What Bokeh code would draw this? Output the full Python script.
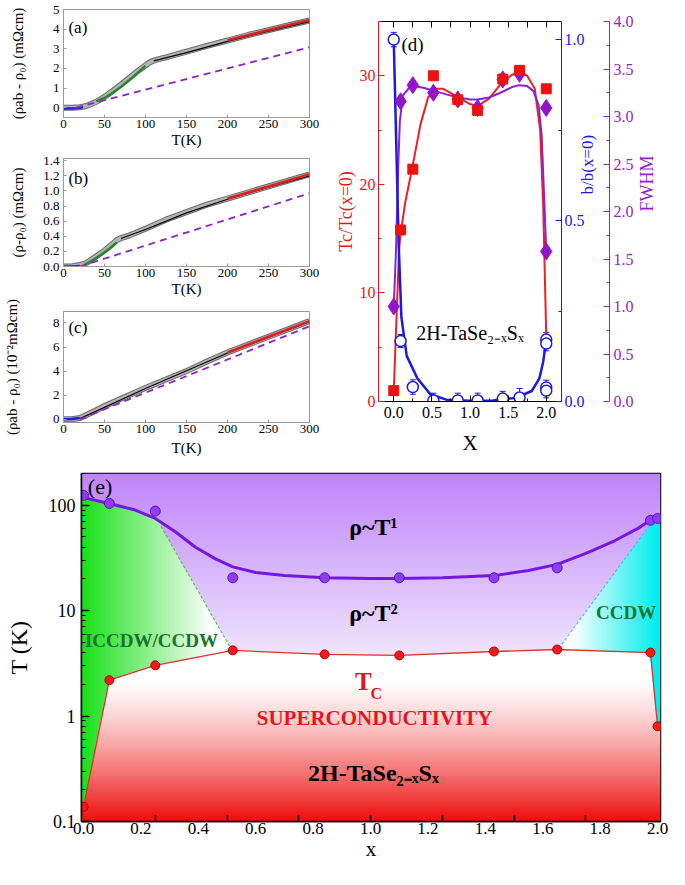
import math
import numpy as np
from bokeh.plotting import figure
from bokeh.layouts import column, row
from bokeh.models import (Range1d, LinearAxis, FixedTicker, NumeralTickFormatter,
                          CustomJSTickFormatter, Whisker, TeeHead, ColumnDataSource)
from bokeh.core.properties import value
from bokeh.embed import file_html
from bokeh.resources import INLINE

FONT = "Liberation Serif, Times New Roman, serif"

# ---------------- panel (a) ----------------
a_T = [0, 10, 20, 25, 30, 40, 50, 60, 70, 80, 90, 100, 105, 110, 115, 125, 150, 175, 200, 225, 250, 275, 300]
a_rho = [0, 0, 0.02, 0.06, 0.12, 0.3, 0.55, 0.85, 1.17, 1.5, 1.85, 2.15, 2.3, 2.4, 2.46, 2.56, 2.85, 3.15, 3.42, 3.7, 3.95, 4.2, 4.44]
a_blue_T = [0, 5, 10, 15, 20, 24]
a_blue = [-0.04, -0.04, -0.04, -0.03, 0.0, 0.03]
a_green_T = [40, 50, 60, 70, 80, 90, 100]
a_green = [0.33, 0.5, 0.76, 1.06, 1.4, 1.76, 2.13]
a_black_T = [110, 150, 200, 250, 300]
a_black = [2.38, 2.8, 3.38, 3.9, 4.38]
a_red_T = [200, 250, 300]
a_red = [3.43, 3.96, 4.46]
a_dash_T = [15, 300]
a_dash = [0.0, 3.08]

# ---------------- panel (b) ----------------
b_T = [0, 10, 20, 25, 30, 40, 50, 60, 65, 70, 80, 100, 125, 150, 175, 200, 250, 300]
b_rho = [0, 0, 0.02, 0.035, 0.06, 0.135, 0.21, 0.30, 0.35, 0.375, 0.41, 0.5, 0.62, 0.72, 0.82, 0.9, 1.06, 1.22]
b_blue_T = [0, 10, 20]
b_blue = [0.0, 0.0, 0.005]
b_green_T = [25, 35, 45, 55, 65]
b_green = [0.02, 0.08, 0.15, 0.23, 0.32]
b_black_T = [70, 100, 150, 200, 250, 300]
b_black = [0.37, 0.49, 0.71, 0.89, 1.05, 1.2]
b_red_T = [200, 250, 300]
b_red = [0.9, 1.06, 1.22]
b_dash_T = [20, 300]
b_dash = [0.0, 0.97]

# ---------------- panel (c) ----------------
c_T = [0, 10, 20, 25, 30, 40, 50, 75, 100, 125, 150, 175, 200, 250, 300]
c_rho = [0, 0, 0.1, 0.25, 0.42, 0.75, 1.1, 1.85, 2.6, 3.3, 4.0, 4.8, 5.55, 6.85, 8.15]
c_blue_T = [0, 10, 20]
c_blue = [0.0, 0.02, 0.1]
c_black_T = [20, 100, 200, 300]
c_black = [0.05, 2.55, 5.5, 8.1]
c_red_T = [200, 250, 300]
c_red = [5.55, 6.85, 8.15]
c_dash_T = [20, 300]
c_dash = [0.0, 7.72]

T_TICKS = [0, 50, 100, 150, 200, 250, 300]

# ---------------- panel (d) ----------------
d_x = [0.0, 0.09, 0.25, 0.52, 0.84, 1.10, 1.43, 1.65, 2.0]
d_tc = [1.0, 15.8, 21.4, 30.0, 27.8, 26.8, 29.7, 30.5, 28.8]
d_fw_x = [0.0, 0.09, 0.25, 0.52, 0.84, 1.10, 1.43, 1.65, 2.0, 2.0]
d_fw = [1.0, 3.16, 3.33, 3.25, 3.18, 3.09, 3.39, 3.45, 3.09, 1.58]
d_b_x = [0.0, 0.09, 0.25, 0.52, 0.84, 1.10, 1.43, 1.65, 2.0, 2.0, 2.0, 2.0]
d_b = [1.0, 0.167, 0.04, 0.003, 0.003, 0.003, 0.008, 0.011, 0.171, 0.16, 0.039, 0.03]
d_b_err = [0.02, 0.018, 0.02, 0.02, 0.02, 0.02, 0.02, 0.025, 0.02, 0.02, 0.02, 0.02]
# guide curves
d_tc_cx = [0.0, 0.07, 0.09, 0.15, 0.25, 0.35, 0.45, 0.55, 0.65, 0.75, 0.85, 1.0, 1.1, 1.25, 1.4, 1.55, 1.65, 1.75, 1.85, 1.92, 1.96, 2.0]
d_tc_cy = [1.0, 14.0, 15.5, 18.3, 21.8, 25.5, 28.0, 28.8, 28.8, 28.4, 28.0, 27.4, 27.2, 27.9, 29.2, 30.1, 30.3, 30.0, 28.8, 25.0, 18.0, 6.0]
d_fw_cx = [0.0, 0.03, 0.06, 0.08, 0.12, 0.2, 0.27, 0.4, 0.53, 0.7, 0.85, 1.0, 1.1, 1.25, 1.4, 1.55, 1.65, 1.75, 1.83, 1.9, 1.94, 1.97, 2.0]
d_fw_cy = [1.0, 1.6, 2.5, 2.95, 3.22, 3.3, 3.32, 3.3, 3.27, 3.23, 3.2, 3.18, 3.18, 3.2, 3.25, 3.31, 3.33, 3.32, 3.27, 3.12, 2.8, 2.2, 1.58]
d_b_cx = [0.0, 0.064, 0.1, 0.17, 0.31, 0.48, 0.69, 1.0, 1.3, 1.6, 1.81, 1.91, 1.96, 2.0]
d_b_cy = [1.0, 0.44, 0.233, 0.126, 0.064, 0.02, 0.005, 0.002, 0.003, 0.01, 0.029, 0.064, 0.11, 0.17]

# ---------------- panel (e) ----------------
e_x = [0.0, 0.09, 0.25, 0.52, 0.84, 1.10, 1.43, 1.65, 1.975, 2.0]
e_tcdw = [124, 104, 88, 20.5, 20.5, 20.5, 20.5, 25.5, 72, 75]
e_tc = [0.138, 2.19, 3.03, 4.2, 3.85, 3.76, 4.1, 4.28, 4.0, 0.80]
e_cx = [0.0, 0.09, 0.18, 0.25, 0.32, 0.39, 0.46, 0.52, 0.6, 0.7, 0.84, 1.0, 1.1, 1.25, 1.43, 1.55, 1.65, 1.75, 1.85, 1.93, 1.975, 2.0]
e_cT = [118, 104, 90, 75, 56, 40, 31, 26, 23, 21.5, 20.5, 20.2, 20.2, 20.5, 21.5, 24, 27.5, 35, 46, 60, 72, 75]
green_bx = [0.27, 0.515]
green_bT = [63, 4.3]
cyan_bx = [1.666, 1.98]
cyan_bT = [4.8, 69]
E_XTICKS = [0.0, 0.2, 0.4, 0.6, 0.8, 1.0, 1.2, 1.4, 1.6, 1.8, 2.0]
E_XMINOR = [0.25, 0.5, 0.75, 1.0, 1.25, 1.5, 1.75]
E_YTICKS = [0.1, 1, 10, 100]
E_YMINOR = [0.2, 0.3, 0.4, 0.5, 0.6, 0.7, 0.8, 0.9, 2, 3, 4, 5, 6, 7, 8, 9,
            20, 30, 40, 50, 60, 70, 80, 90, 200]

RED = "#e8141c"
BLUE = "#1a1ae6"
PURP = "#9a1ccc"
GRAYF = "#9a9a9a"
NBSP = "\u00a0"


def style_axis(ax, lab_size, title_size, color="black"):
    ax.major_label_text_font = FONT
    ax.major_label_text_font_size = lab_size
    ax.major_label_text_color = color
    ax.axis_label_text_font = FONT
    ax.axis_label_text_font_size = title_size
    ax.axis_label_text_font_style = "normal"
    ax.axis_label_text_color = color
    ax.axis_line_color = color
    ax.major_tick_line_color = color
    ax.minor_tick_line_color = color


def small_panel(height, top, bottom, yr, yticks, yfmt, ylabel, ystand):
    p = figure(width=332, height=height, x_range=Range1d(0, 300), y_range=Range1d(*yr),
               output_backend="svg", toolbar_location=None,
               min_border_left=57, min_border_right=23, min_border_top=top, min_border_bottom=bottom)
    p.grid.visible = False
    p.outline_line_color = GRAYF
    for ax in (p.xaxis[0], p.yaxis[0]):
        style_axis(ax, "13px", "15px")
        ax.axis_line_color = GRAYF
        ax.major_tick_line_color = GRAYF
        ax.minor_tick_line_color = None
        ax.major_tick_in = 3
        ax.major_tick_out = 0
    p.xaxis.ticker = FixedTicker(ticks=T_TICKS)
    p.xaxis.axis_label = "T(K)"
    p.xaxis.major_label_standoff = 2
    p.xaxis.axis_label_standoff = 1
    p.yaxis.ticker = FixedTicker(ticks=yticks)
    p.yaxis.formatter = NumeralTickFormatter(format=yfmt)
    p.yaxis.axis_label = ylabel
    p.yaxis.major_label_standoff = 4
    p.yaxis.axis_label_standoff = ystand
    return p


def draw_curves(p, T, r, bT, b, gT, g, kT, k, rT, rr, dT, dd):
    p.line(T, r, line_width=6, color="#6a6a6a")
    p.line(T, r, line_width=4, color="#b4b4b4")
    if kT is not None:
        p.line(kT, k, line_width=1.2, color="black")
    if gT is not None:
        p.line(gT, g, line_width=2.2, color="#1d8a24")
    p.line(bT, b, line_width=2.5, color="#2020d8")
    p.line(rT, rr, line_width=2.6, color="#e02020")
    p.line(dT, dd, line_width=1.8, color="#8e24c8", line_dash="7 5")


def panel_label(p, x, y, txt, size):
    p.text(x=[x], y=[y], text=[txt], text_font=value(FONT), text_font_size=value(size),
           text_align="left", text_baseline="middle", text_color="black")


pa = small_panel(150, 9, 31, (-0.5, 5.0), [0, 1, 2, 3, 4, 5], "0", "(ρab - ρ₀) (mΩcm)", 24)
draw_curves(pa, a_T, a_rho, a_blue_T, a_blue, a_green_T, a_green, a_black_T, a_black,
            a_red_T, a_red, a_dash_T, a_dash)
panel_label(pa, 6, 4.1, "(a)", "17px")

pb = small_panel(149, 8, 31, (0, 1.43), [0, 0.2, 0.4, 0.6, 0.8, 1.0, 1.2, 1.4], "0.0", "(ρ-ρ₀) (mΩcm)", 14)
draw_curves(pb, b_T, b_rho, b_blue_T, b_blue, b_green_T, b_green, b_black_T, b_black,
            b_red_T, b_red, b_dash_T, b_dash)
panel_label(pb, 6, 1.16, "(b)", "17px")

pc = small_panel(162, 12, 39, (-0.27, 8.95), [0, 2, 4, 6, 8], "0", "(ρab - ρ₀) (10⁻²mΩcm)", 30)
pc.xaxis.axis_label_standoff = 4
draw_curves(pc, c_T, c_rho, c_blue_T, c_blue, None, None, c_black_T, c_black,
            c_red_T, c_red, c_dash_T, c_dash)
panel_label(pc, 6, 7.6, "(c)", "17px")

# ---------------- build (d) ----------------
pd_ = figure(width=337, height=461, x_range=Range1d(-0.2, 2.2), y_range=Range1d(0, 35),
             output_backend="svg", toolbar_location=None,
             min_border_left=30, min_border_right=80, min_border_top=21, min_border_bottom=60)
pd_.grid.visible = False
pd_.outline_line_color = None
pd_.extra_y_ranges = {"blue": Range1d(0, 1.05), "fwhm": Range1d(0, 4.0)}

xb = pd_.xaxis[0]
style_axis(xb, "16px", "21px")
xb.ticker = FixedTicker(ticks=[0, 0.5, 1.0, 1.5, 2.0], minor_ticks=[0.25, 0.75, 1.25, 1.75])
xb.formatter = NumeralTickFormatter(format="0.0")
xb.major_tick_in = 6; xb.major_tick_out = 0; xb.minor_tick_in = 3; xb.minor_tick_out = 0
xb.axis_label = "X"
xb.major_label_standoff = 5
xb.axis_label_standoff = 10

yl = pd_.yaxis[0]
style_axis(yl, "16px", "18px", RED)
yl.ticker = FixedTicker(ticks=[0, 10, 20, 30], minor_ticks=[5, 15, 25, 35])
yl.major_tick_in = 6; yl.major_tick_out = 0; yl.minor_tick_in = 3; yl.minor_tick_out = 0
yl.axis_label = "Tc/Tc(x=0)"
yl.major_label_standoff = 3
yl.axis_label_standoff = 1

ax_top = LinearAxis(ticker=FixedTicker(ticks=[0, 0.25, 0.5, 0.75, 1.0, 1.25, 1.5, 1.75, 2.0]))
style_axis(ax_top, "1px", "1px")
ax_top.major_label_text_color = None
ax_top.major_tick_in = 6; ax_top.major_tick_out = 0
ax_top.minor_tick_line_color = None
ax_top.major_label_standoff = 0
pd_.add_layout(ax_top, "above")

ax_b = LinearAxis(y_range_name="blue", ticker=FixedTicker(ticks=[0, 0.5, 1.0], minor_ticks=[0.25, 0.75]),
                  formatter=NumeralTickFormatter(format="0.0"),
                  axis_label=NBSP * 4 + "b/b(x=0)")
style_axis(ax_b, "16px", "17px", BLUE)
ax_b.major_tick_in = 6; ax_b.major_tick_out = 0; ax_b.minor_tick_in = 3; ax_b.minor_tick_out = 0
ax_b.major_label_standoff = 3
ax_b.axis_label_standoff = 0
pd_.add_layout(ax_b, "right")

ax_f = LinearAxis(y_range_name="fwhm",
                  ticker=FixedTicker(ticks=[0, 0.5, 1.0, 1.5, 2.0, 2.5, 3.0, 3.5, 4.0],
                                     minor_ticks=[0.25, 0.75, 1.25, 1.75, 2.25, 2.75, 3.25, 3.75]),
                  formatter=NumeralTickFormatter(format="0.0"), axis_label="FWHM")
style_axis(ax_f, "16px", "18px", PURP)
ax_f.major_tick_in = 6; ax_f.major_tick_out = 0; ax_f.minor_tick_in = 3; ax_f.minor_tick_out = 0
ax_f.major_label_standoff = 4
ax_f.axis_label_standoff = 10
pd_.add_layout(ax_f, "right")
try:
    ax_b.axis_label_orientation = math.pi / 2
    ax_f.axis_label_orientation = math.pi / 2
except Exception:
    pass

pd_.line(d_tc_cx, d_tc_cy, line_width=2, color="#ee2020")
pd_.line(d_fw_cx, d_fw_cy, line_width=2, color="#8b20d8", y_range_name="fwhm")
pd_.line(d_b_cx, d_b_cy, line_width=2.5, color=BLUE, y_range_name="blue")
pd_.scatter(d_fw_x, d_fw, marker="diamond", size=17, color="#9414c8", y_range_name="fwhm")
pd_.scatter(d_x, d_tc, marker="square", size=10, color="#ee1111")
bsrc = ColumnDataSource(dict(x=d_b_x, y=d_b,
                             upper=[v + e for v, e in zip(d_b, d_b_err)],
                             lower=[v - e for v, e in zip(d_b, d_b_err)]))
wh = Whisker(source=bsrc, base="x", upper="upper", lower="lower", dimension="height",
             y_range_name="blue", line_color=BLUE, line_width=1,
             upper_head=TeeHead(size=6, line_color=BLUE), lower_head=TeeHead(size=6, line_color=BLUE))
pd_.add_layout(wh)
pd_.scatter("x", "y", source=bsrc, marker="circle", size=11, fill_color="white",
            line_color=BLUE, line_width=1.5, y_range_name="blue")
pd_.text(x=[0.1], y=[32.9], text=["(d)"], text_font=value(FONT), text_font_size=value("19px"),
         text_align="left", text_baseline="middle")
pd_.text(x=[1.0], y=[6.3], text=["2H-TaSe₂₋ₓSₓ"], text_font=value(FONT), text_font_size=value("20px"),
         text_align="center", text_baseline="middle")

# ---------------- build (e) ----------------
EX0, EX1 = -0.007, 2.01
EY0, EY1 = 0.1, 200.0
pe = figure(width=669, height=408, x_range=Range1d(EX0, EX1), y_range=Range1d(EY0, EY1),
            y_axis_type="log", output_backend="svg", toolbar_location=None,
            min_border_left=81, min_border_right=9, min_border_top=12, min_border_bottom=48)
pe.grid.visible = False
pe.outline_line_color = "black"
pe.outline_line_width = 1.5

# background phase regions (image in data space)
nx, ny = 600, 360
ly0, ly1 = np.log10(EY0), np.log10(EY1)
xs = EX0 + (np.arange(nx) + 0.5) * (EX1 - EX0) / nx
lys = ly0 + (np.arange(ny) + 0.5) * (ly1 - ly0) / ny
X, LY = np.meshgrid(xs, lys)
tc_l = np.interp(xs, e_x, np.log10(e_tc))[None, :]
pu_l = np.interp(xs, e_cx, np.log10(e_cT))[None, :]
gb = np.interp(LY, [np.log10(green_bT[1]), np.log10(green_bT[0])], [green_bx[1], green_bx[0]])
cb = np.interp(LY, [np.log10(cyan_bT[0]), np.log10(cyan_bT[1])], [cyan_bx[0], cyan_bx[1]])
below = LY < tc_l
green = (~below) & (LY < pu_l) & (X < gb)
cyan = (~below) & (LY < pu_l) & (X > cb)


def mix(c0, c1, t):
    t = t[..., None]
    return np.array(c0)[None, None, :] * (1 - t) + np.array(c1)[None, None, :] * t


t_p = np.clip((ly1 - LY) / (ly1 - np.log10(4.0)), 0, 1)
col = mix((192, 132, 250), (238, 228, 252), t_p)
t_r = np.clip((0.35 - LY) / (0.35 - ly0), 0, 1) ** 1.3
col = np.where(below[..., None], mix((255, 255, 255), (240, 12, 12), t_r), col)
t_g = np.clip(X / 0.45, 0, 1)
col = np.where(green[..., None], mix((28, 225, 28), (255, 255, 255), t_g), col)
t_c = np.clip((2.0 - X) / 0.3, 0, 1)
col = np.where(cyan[..., None], mix((0, 238, 238), (255, 255, 255), t_c), col)
img = np.empty((ny, nx), dtype=np.uint32)
view = img.view(dtype=np.uint8).reshape((ny, nx, 4))
view[..., 0] = col[..., 0].astype(np.uint8)
view[..., 1] = col[..., 1].astype(np.uint8)
view[..., 2] = col[..., 2].astype(np.uint8)
view[..., 3] = 255
pe.image_rgba(image=[img], x=EX0, y=EY0, dw=EX1 - EX0, dh=EY1 - EY0)

pe.line(green_bx, green_bT, line_width=1.2, color="#5cbf5c", line_dash="3 2")
pe.line(cyan_bx, cyan_bT, line_width=1.2, color="#58b8e8", line_dash="3 2")
pe.line(e_x, e_tc, line_width=1.3, color="#e03030")
pe.line(e_cx, e_cT, line_width=3, color="#7418e0")
pe.scatter(e_x, e_tcdw, marker="circle", size=10, fill_color="#8d3ef4", line_color="#5d10c0", line_width=1)
pe.scatter(e_x, e_tc, marker="circle", size=9, fill_color="#f01c1c", line_color="#b00000", line_width=1)

xe = pe.xaxis[0]
style_axis(xe, "17px", "21px")
xe.ticker = FixedTicker(ticks=E_XTICKS, minor_ticks=E_XMINOR)
xe.formatter = NumeralTickFormatter(format="0.0")
xe.major_tick_in = 0; xe.major_tick_out = 0; xe.minor_tick_in = 6; xe.minor_tick_out = 0
xe.minor_tick_line_width = 1.5
xe.axis_line_width = 1.5
xe.axis_label = "x"
xe.major_label_standoff = 1
xe.axis_label_standoff = 0

ye = pe.yaxis[0]
style_axis(ye, "18px", "24px")
ye.ticker = FixedTicker(ticks=E_YTICKS, minor_ticks=E_YMINOR)
ye.formatter = CustomJSTickFormatter(code="return String(tick);")
ye.major_tick_in = 8; ye.major_tick_out = 0; ye.minor_tick_in = 4; ye.minor_tick_out = 0
ye.major_tick_line_width = 1.5
ye.axis_line_width = 1.5
ye.axis_label = "T (K)"
ye.major_label_standoff = 6
ye.axis_label_standoff = 14


def etext(x, y, txt, size, color="black", align="center", style="bold"):
    pe.text(x=[x], y=[y], text=[txt], text_font=value(FONT), text_font_size=value(size),
            text_align=align, text_baseline="middle", text_color=color, text_font_style=style)


etext(0.015, 150, "(e)", "22px", align="left", style="normal")
etext(1.01, 62, "ρ~T¹", "24px")
etext(1.01, 9.4, "ρ~T²", "24px")
etext(0.005, 5.2, "ICCDW/CCDW", "19px", color="#17752c", align="left")
etext(1.995, 9.6, "CCDW", "19px", color="#17752c", align="right")
etext(0.975, 2.14, "T", "25px", color=RED)
etext(1.0, 1.62, "C", "16px", color=RED, align="left")
etext(1.014, 0.96, "SUPERCONDUCTIVITY", "21px", color=RED)
etext(1.01, 0.29, "2H-TaSe₂₋ₓSₓ", "24px")

layout = column(row(column(pa, pb, pc), pd_), pe)
open("out.html", "w").write(file_html(layout, INLINE))
